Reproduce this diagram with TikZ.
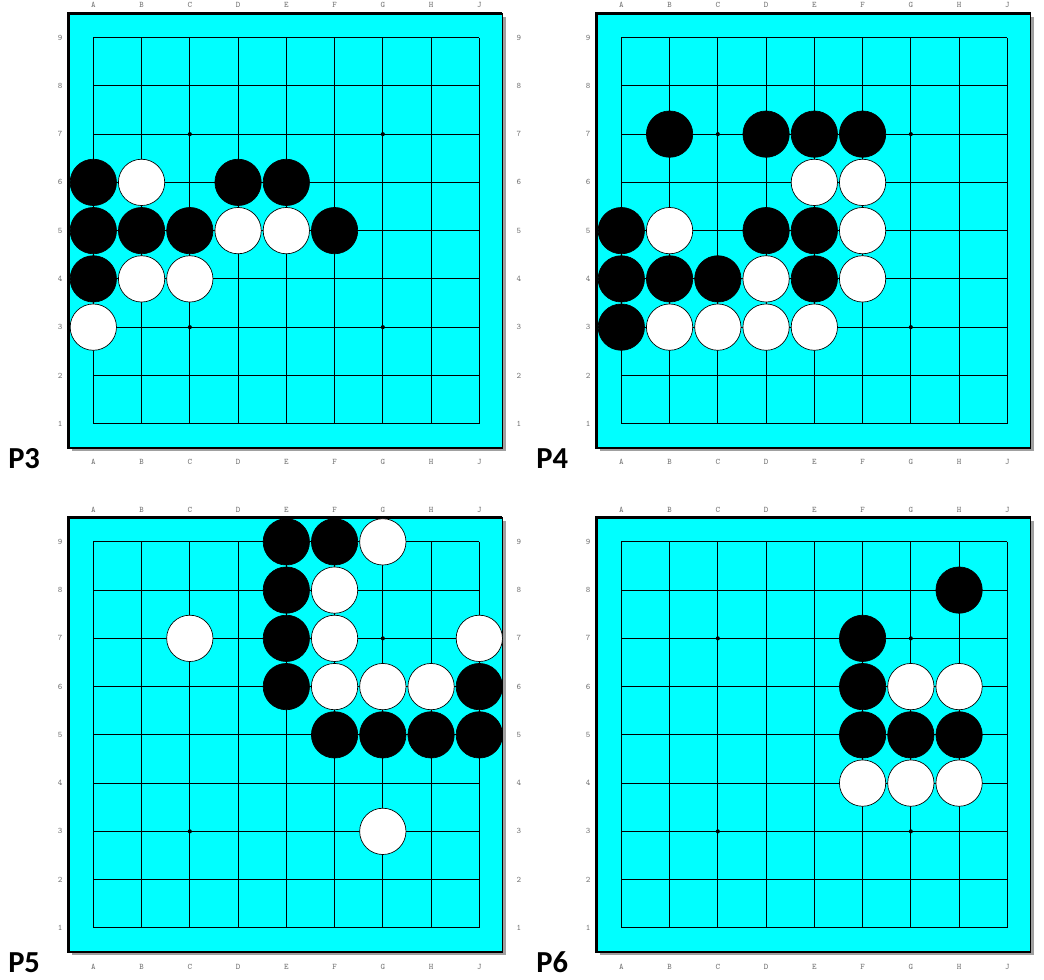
\documentclass[tikz,border=0pt]{standalone}
\usepackage{fontspec}
\newfontfamily\plabelfont{Carlito}
\usepackage{tikz}
\usetikzlibrary{positioning}
\definecolor{boardcyan}{RGB}{0,255,255}
\definecolor{shadegray}{RGB}{160,160,160}

\begin{document}
\begin{tikzpicture}[
    gridline/.style = {line width=0.55pt, black},
    boardbox/.style = {draw=black, line width=0.9pt, fill=boardcyan},
    boardshade/.style = {fill=shadegray, draw=none},
    boardedge/.style = {line width=1.8pt, black},
    coordlabel/.style = {font=\fontsize{5}{6}\selectfont\ttfamily, text=black!55, inner sep=0pt},
    stone/.style = {circle, draw=black, line width=0.4pt, minimum size=0.96cm, inner sep=0pt},
    bstone/.style = {stone, fill=black},
    wstone/.style = {stone, fill=white},
    hoshi/.style = {circle, fill=black, inner sep=0pt, minimum size=0.085cm},
    plabel/.style = {font=\plabelfont\bfseries\fontsize{18}{20}\selectfont,
                     anchor=base west, inner sep=0pt},
]
\useasboundingbox (0,0) rectangle (21.637,20.29);

%% ── Empty boards ────────────────────────────────────────────────────────────
\foreach \bx/\by/\bname in {0.934/10.51/P3, 11.877/10.51/P4, 0.934/0.06/P5, 11.877/0.06/P6}{
  \begin{scope}[shift={(\bx,\by)}]
    \fill[boardshade] (0.55,0.43) rectangle (9.55,9.43);
    \filldraw[boardbox] (0.48,0.5) rectangle (9.48,9.5);
    \draw[boardedge] (0.48,0.5) -- (0.48,9.5) -- (9.48,9.5);
    \draw[gridline] (1,1) grid (9,9);
    \foreach \c/\r in {3/3, 3/7, 7/3, 7/7}
      \node[hoshi] (\bname-hoshi-\c-\r) at (\c,\r) {};
    \foreach \l [count=\i] in {A,B,C,D,E,F,G,H,J}{
      \node[coordlabel] (\bname-top-\l) at (\i,9.67) {\l};
      \node[coordlabel] (\bname-bot-\l) at (\i,0.2)  {\l};
    }
    \foreach \i in {1,...,9}
      \node[coordlabel] (\bname-left-\i) at (0.31,\i) {\i};
    \node[plabel] (\bname-label) at (-0.77,0.07) {\bname};
  \end{scope}
}

%% ── Right-hand numbers (left column of boards only) ─────────────────────────
\foreach \bx/\by/\bname in {0.934/10.51/P3, 0.934/0.06/P5}{
  \begin{scope}[shift={(\bx,\by)}]
    \foreach \i in {1,...,9}
      \node[coordlabel] (\bname-right-\i) at (9.82,\i) {\i};
  \end{scope}
}

%% ── P3 stones ───────────────────────────────────────────────────────────────
\begin{scope}[shift={(0.934,10.51)}]
  \foreach \c/\r in {1/6, 4/6, 5/6, 1/5, 2/5, 3/5, 6/5, 1/4}
    \node[bstone] (P3-\c-\r) at (\c,\r) {};
  \foreach \c/\r in {2/6, 4/5, 5/5, 2/4, 3/4, 1/3}
    \node[wstone] (P3-\c-\r) at (\c,\r) {};
\end{scope}

%% ── P4 stones ───────────────────────────────────────────────────────────────
\begin{scope}[shift={(11.877,10.51)}]
  \foreach \c/\r in {2/7, 4/7, 5/7, 6/7, 1/5, 4/5, 5/5, 1/4, 2/4, 3/4, 5/4, 1/3}
    \node[bstone] (P4-\c-\r) at (\c,\r) {};
  \foreach \c/\r in {5/6, 6/6, 2/5, 6/5, 4/4, 6/4, 2/3, 3/3, 4/3, 5/3}
    \node[wstone] (P4-\c-\r) at (\c,\r) {};
\end{scope}

%% ── P5 stones ───────────────────────────────────────────────────────────────
\begin{scope}[shift={(0.934,0.06)}]
  \foreach \c/\r in {5/9, 6/9, 5/8, 5/7, 5/6, 9/6, 6/5, 7/5, 8/5, 9/5}
    \node[bstone] (P5-\c-\r) at (\c,\r) {};
  \foreach \c/\r in {7/9, 6/8, 3/7, 6/7, 9/7, 6/6, 7/6, 8/6, 7/3}
    \node[wstone] (P5-\c-\r) at (\c,\r) {};
\end{scope}

%% ── P6 stones ───────────────────────────────────────────────────────────────
\begin{scope}[shift={(11.877,0.06)}]
  \foreach \c/\r in {8/8, 6/7, 6/6, 6/5, 7/5, 8/5}
    \node[bstone] (P6-\c-\r) at (\c,\r) {};
  \foreach \c/\r in {7/6, 8/6, 6/4, 7/4, 8/4}
    \node[wstone] (P6-\c-\r) at (\c,\r) {};
\end{scope}

\end{tikzpicture}
\end{document}
